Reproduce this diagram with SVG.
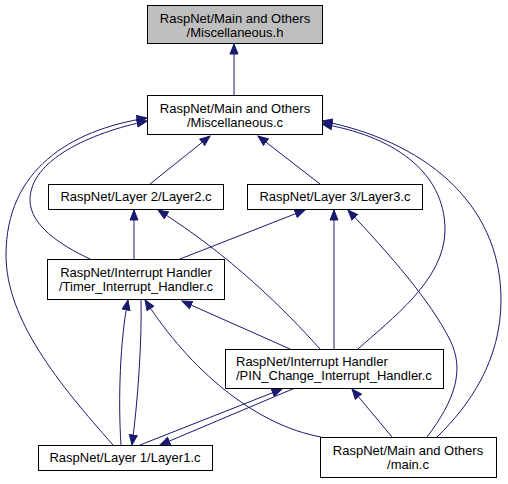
<svg xmlns="http://www.w3.org/2000/svg" width="508" height="484" viewBox="0 0 508 484">
<style>
.n rect{fill:#fff;stroke:#000;stroke-width:1}
.n text{font-family:"Liberation Sans",Arial,sans-serif;font-size:13px;fill:#000}
.c{text-anchor:middle}
.e path{fill:none;stroke:#191970;stroke-width:1;marker-end:url(#a)}
</style>
<defs>
<marker id="a" markerUnits="userSpaceOnUse" markerWidth="12" markerHeight="10" refX="10.5" refY="5" orient="auto" viewBox="0 0 12 10">
<path d="M0.5,1 L10.5,5 L0.5,9 z" fill="#191970" stroke="#191970" stroke-width="1"/>
</marker>
</defs>
<rect width="508" height="484" fill="#fff"/>
<g class="e" id="edges">
<path d="M234,95 L234,44"/>
<path d="M150,184 L210,136"/>
<path d="M320,184 L258,136"/>
<path d="M90,259 C60,245 30,225 30,200 C30,160 90,133 147,121"/>
<path d="M113,445 C60,385 6,320 6,255 C6,170 70,130 147,118"/>
<path d="M358,349 C390,320 445,280 445,230 C445,170 390,135 322,124"/>
<path d="M437,437 C470,405 501,360 501,300 C501,200 420,140 322,121"/>
<path d="M134,259 L134,210"/>
<path d="M180,259 L305,210"/>
<path d="M320,349 C285,310 230,255 158,210"/>
<path d="M334,349 L334,210"/>
<path d="M427,437 C455,400 465,370 450,340 C430,300 390,255 348,210"/>
<path d="M121,445 C118,400 120,340 128,300"/>
<path d="M141,299 C142,340 138,400 132,445"/>
<path d="M290,349 L182,301"/>
<path d="M321,437 C255,425 190,370 145,300"/>
<path d="M140,445 L282,389"/>
<path d="M295,388 L160,445"/>
<path d="M392,437 L352,389"/>
</g>
<g class="n" id="misc_h"><rect x="147.5" y="5.5" width="175" height="38" style="fill:#bfbfbf"/><text class="c" x="235" y="22.5">RaspNet/Main and Others</text><text class="c" x="235" y="37">/Miscellaneous.h</text></g>
<g class="n" id="misc_c"><rect x="147.5" y="95.5" width="175" height="39"/><text class="c" x="235" y="112.5">RaspNet/Main and Others</text><text class="c" x="235" y="127">/Miscellaneous.c</text></g>
<g class="n" id="layer2"><rect x="48.5" y="184.5" width="175" height="25"/><text class="c" x="136" y="201">RaspNet/Layer 2/Layer2.c</text></g>
<g class="n" id="layer3"><rect x="247.5" y="184.5" width="175" height="25"/><text class="c" x="335" y="201">RaspNet/Layer 3/Layer3.c</text></g>
<g class="n" id="timer"><rect x="47.5" y="259.5" width="177" height="40"/><text class="c" x="136" y="276.5">RaspNet/Interrupt Handler</text><text class="c" x="136" y="291">/Timer_Interrupt_Handler.c</text></g>
<g class="n" id="pin"><rect x="225.5" y="349.5" width="218" height="39"/><text x="236" y="366">RaspNet/Interrupt Handler</text><text x="236" y="380">/PIN_Change_Interrupt_Handler.c</text></g>
<g class="n" id="layer1"><rect x="38.5" y="445.5" width="174" height="25"/><text class="c" x="125" y="462">RaspNet/Layer 1/Layer1.c</text></g>
<g class="n" id="main_c"><rect x="320.5" y="437.5" width="176" height="40"/><text class="c" x="408" y="454.5">RaspNet/Main and Others</text><text class="c" x="408" y="469">/main.c</text></g>
</svg>
